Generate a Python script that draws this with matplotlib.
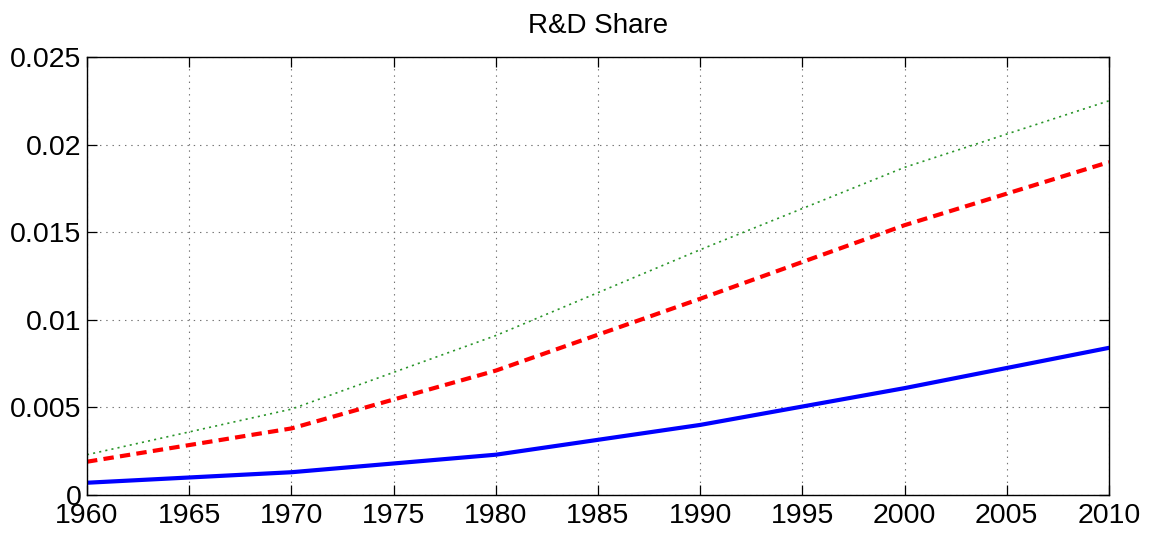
import matplotlib
matplotlib.use("Agg")
import matplotlib.pyplot as plt
from matplotlib.ticker import FuncFormatter

plt.rcParams['font.family'] = ['Liberation Sans', 'DejaVu Sans']
plt.rcParams['lines.scale_dashes'] = False

years = [1960, 1970, 1980, 1990, 2000, 2010]
share_low = [0.0007, 0.0013, 0.0023, 0.0040, 0.0061, 0.0084]
share_mid = [0.0019, 0.0038, 0.0071, 0.0112, 0.0154, 0.0190]
share_high = [0.0023, 0.0049, 0.0091, 0.0140, 0.0187, 0.0225]

x_ticks = list(range(1960, 2011, 5))
y_ticks = [0, 0.005, 0.01, 0.015, 0.02, 0.025]

fig = plt.figure(figsize=(11.57, 5.37), dpi=100)
ax = fig.add_axes([0.0752, 0.0782, 0.8833, 0.8157])

ax.plot(years, share_low, color='#0000ff', lw=3, solid_joinstyle='round')
ax.plot(years, share_mid, color='#ff0000', lw=3, linestyle=(0, (7.5, 4.5)))
ax.plot(years, share_high, color='#2a952a', lw=1.2, linestyle=(0, (1.5, 3)))

ax.set_xlim(1960, 2010)
ax.set_ylim(0, 0.025)
ax.set_xticks(x_ticks)
ax.set_yticks(y_ticks)
ax.yaxis.set_major_formatter(FuncFormatter(lambda v, p: '%g' % v))

# matlab-ish dotted grid
ax.grid(True, color='0.45', lw=0.8, linestyle=(0, (1, 3.5)))
ax.tick_params(direction='in', length=7, width=0.9, top=True, right=True,
               labelsize=20.5)
ax.tick_params(axis='x', pad=5.5)
ax.tick_params(axis='y', pad=4)
for s in ax.spines.values():
    s.set_linewidth(1.0)

ax.set_title('R&D Share', fontsize=20, pad=17)

fig.savefig('out.png', dpi=100)
